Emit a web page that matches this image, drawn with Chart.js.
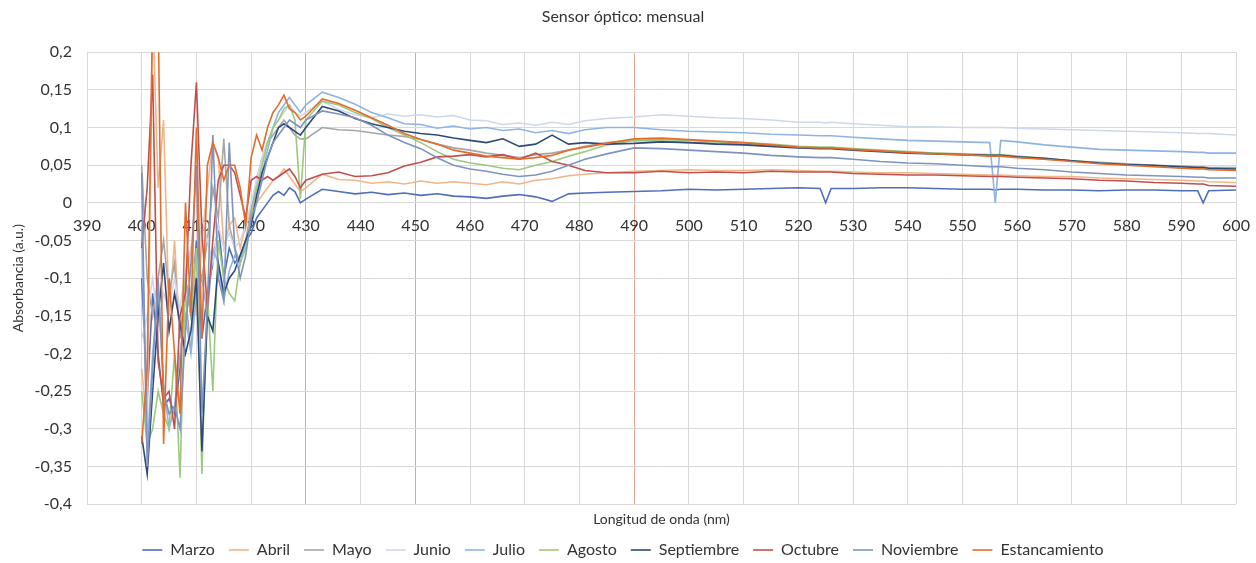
<!DOCTYPE html>
<html lang="es">
<head>
  <meta charset="UTF-8">
  <title>Sensor óptico: mensual</title>
  <script src="https://cdn.jsdelivr.net/npm/chart.js@4"></script>
  <style>
    body { margin: 0; background: #fff; }
    #grafico { display: block; }
  </style>
</head>
<body>
<canvas id="grafico" width="1256" height="563"></canvas>
<script>
  // longitudes de onda (nm) donde se leen los valores
  const longitudes = [
    400, 401, 402, 403, 404, 405, 406, 407, 408, 409, 410, 411, 412, 413, 414, 415,
    416, 417, 418, 419, 420, 421, 422, 423, 424, 425, 426, 427, 428, 429, 430,
    433, 436, 439, 442, 445, 448, 451, 454, 457, 460, 463, 466, 469, 472, 475, 478, 481,
    485, 490, 495, 500, 505, 510, 515, 520, 524, 525, 526, 530, 535, 540, 545, 550,
    555, 556, 557, 560, 565, 570, 575, 580, 585, 590, 593, 594, 595, 600
  ];

  const marzo = [
    -0.10, -0.26, -0.12, -0.20, -0.27, -0.26, -0.28, -0.22, -0.10, -0.15, -0.05, -0.18, -0.12, -0.08, -0.03, -0.10,
    -0.06, -0.08, -0.07, -0.05, -0.04, -0.02, -0.01, 0.00, 0.01, 0.015, 0.01, 0.02, 0.015, 0.0, 0.005,
    0.018, 0.015, 0.012, 0.014, 0.011, 0.013, 0.01, 0.012, 0.009, 0.008, 0.006, 0.009, 0.011, 0.008, 0.002, 0.012, 0.013,
    0.014, 0.015, 0.016, 0.018, 0.017, 0.018, 0.019, 0.02, 0.019, 0.0, 0.019, 0.019, 0.02, 0.02, 0.019, 0.018,
    0.018, 0.017, 0.018, 0.018, 0.017, 0.017, 0.016, 0.017, 0.017, 0.016, 0.016, 0.0, 0.016, 0.017
  ];
  const abril = [
    -0.22, -0.30, 0.26, 0.02, 0.11, -0.15, -0.05, -0.18, -0.10, -0.06, -0.15, -0.05, 0.02, 0.08, 0.06, -0.06,
    -0.03, -0.02, -0.06, -0.03, -0.01, 0.0, 0.01, 0.02, 0.03, 0.035, 0.045, 0.035, 0.025, 0.015, 0.02,
    0.038, 0.031, 0.03, 0.026, 0.028, 0.025, 0.029, 0.026, 0.028, 0.026, 0.024, 0.028, 0.025, 0.03, 0.032, 0.036, 0.038,
    0.04, 0.042, 0.043, 0.044, 0.043, 0.043, 0.044, 0.043, 0.042, 0.042, 0.042, 0.041, 0.04, 0.04, 0.039, 0.038,
    0.037, 0.037, 0.037, 0.036, 0.035, 0.035, 0.033, 0.032, 0.031, 0.03, 0.029, 0.029, 0.028, 0.027
  ];
  const mayo = [
    0.05, -0.10, -0.15, -0.10, -0.05, -0.12, -0.08, -0.18, -0.12, -0.20, -0.08, -0.10, -0.05, 0.02, -0.02, 0.085,
    -0.03, -0.06, -0.08, -0.05, -0.01, 0.03, 0.06, 0.08, 0.09, 0.10, 0.11, 0.10, 0.09, 0.085, 0.085,
    0.1, 0.097, 0.096, 0.093, 0.09, 0.088, 0.084, 0.078, 0.073, 0.07, 0.066, 0.063, 0.06, 0.064, 0.066, 0.07, 0.075,
    0.08, 0.083, 0.082, 0.08, 0.079, 0.078, 0.076, 0.074, 0.073, 0.073, 0.073, 0.071, 0.069, 0.067, 0.066, 0.064,
    0.063, 0.063, 0.063, 0.061, 0.058, 0.056, 0.054, 0.052, 0.05, 0.049, 0.048, 0.048, 0.047, 0.047
  ];
  const junio = [
    -0.18, -0.15, -0.10, -0.16, -0.12, -0.14, -0.10, -0.14, -0.09, -0.06, -0.10, -0.02, -0.05, -0.08, -0.03, -0.06,
    -0.04, -0.06, -0.05, -0.03, 0.0, 0.03, 0.06, 0.08, 0.10, 0.11, 0.12, 0.13, 0.12, 0.115, 0.12,
    0.135, 0.124, 0.117, 0.113, 0.118, 0.115, 0.117, 0.114, 0.116, 0.11, 0.109, 0.104, 0.106, 0.103, 0.107, 0.104, 0.109,
    0.112, 0.114, 0.117, 0.115, 0.113, 0.112, 0.11, 0.107, 0.107, 0.106, 0.107, 0.105, 0.103, 0.101, 0.101, 0.1,
    0.1, 0.1, 0.1, 0.099, 0.098, 0.097, 0.096, 0.095, 0.094, 0.093, 0.092, 0.092, 0.092, 0.09
  ];
  const julio = [
    -0.03, -0.33, -0.20, -0.12, -0.24, -0.30, -0.27, -0.20, -0.15, -0.20, -0.12, -0.10, -0.15, -0.06, -0.08, -0.13,
    -0.09, -0.07, -0.08, -0.05, -0.03, 0.0, 0.04, 0.07, 0.10, 0.12, 0.13, 0.14, 0.13, 0.12, 0.13,
    0.147, 0.14, 0.131, 0.12, 0.113, 0.105, 0.104, 0.099, 0.102, 0.098, 0.1, 0.096, 0.098, 0.093, 0.096, 0.092, 0.097,
    0.1, 0.1, 0.097, 0.095, 0.094, 0.093, 0.091, 0.09, 0.089, 0.089, 0.089, 0.087, 0.085, 0.083, 0.082, 0.081,
    0.08, 0.0, 0.083, 0.081, 0.077, 0.074, 0.071, 0.07, 0.069, 0.068, 0.067, 0.067, 0.066, 0.066
  ];
  const agosto = [
    -0.25, -0.32, -0.30, -0.25, -0.28, -0.30, -0.20, -0.365, -0.10, -0.15, -0.06, -0.36, -0.12, -0.25, -0.05, -0.10,
    -0.12, -0.13, -0.08, -0.06, -0.02, 0.02, 0.05, 0.08, 0.10, 0.11, 0.125, 0.13, 0.11, 0.005, 0.11,
    0.135, 0.13, 0.12, 0.112, 0.1, 0.09, 0.08, 0.068, 0.058, 0.053, 0.05, 0.046, 0.044, 0.05, 0.055, 0.062, 0.068,
    0.077, 0.083, 0.084, 0.083, 0.081, 0.08, 0.078, 0.075, 0.074, 0.074, 0.074, 0.072, 0.07, 0.068, 0.066, 0.065,
    0.064, 0.064, 0.064, 0.062, 0.059, 0.056, 0.053, 0.051, 0.049, 0.047, 0.046, 0.046, 0.045, 0.045
  ];
  const septiembre = [
    -0.31, -0.36, -0.25, -0.15, -0.08, -0.17, -0.12, -0.16, -0.20, -0.17, -0.10, -0.33, -0.15, -0.17, -0.08, -0.12,
    -0.10, -0.09, -0.07, -0.05, -0.03, 0.01, 0.04, 0.06, 0.08, 0.10, 0.105, 0.10, 0.095, 0.09, 0.10,
    0.128, 0.122, 0.112, 0.105, 0.1, 0.095, 0.092, 0.09, 0.086, 0.083, 0.08, 0.085, 0.075, 0.078, 0.09, 0.078, 0.08,
    0.078, 0.079, 0.081, 0.08, 0.078, 0.077, 0.075, 0.073, 0.072, 0.072, 0.072, 0.07, 0.068, 0.066, 0.065, 0.064,
    0.063, 0.063, 0.063, 0.061, 0.059, 0.056, 0.053, 0.051, 0.05, 0.048, 0.047, 0.047, 0.046, 0.045
  ];
  const octubre = [
    -0.06, 0.02, 0.17, -0.21, -0.26, -0.25, -0.30, -0.15, -0.12, 0.05, 0.16, -0.04, -0.14, -0.05, 0.03, 0.05,
    0.05, 0.04, 0.01, -0.02, 0.03, 0.035, 0.03, 0.035, 0.03, 0.035, 0.04, 0.045, 0.035, 0.02, 0.03,
    0.038, 0.041, 0.035, 0.036, 0.04, 0.049, 0.054, 0.061, 0.062, 0.064, 0.061, 0.064, 0.058, 0.066, 0.055, 0.05, 0.043,
    0.04, 0.04, 0.042, 0.04, 0.041, 0.04, 0.042, 0.041, 0.041, 0.041, 0.041, 0.039, 0.038, 0.037, 0.037, 0.036,
    0.035, 0.035, 0.035, 0.034, 0.033, 0.032, 0.03, 0.029, 0.027, 0.026, 0.025, 0.025, 0.023, 0.022
  ];
  const noviembre = [
    0.04, -0.35, -0.22, -0.10, -0.25, -0.28, -0.27, -0.30, -0.17, -0.08, 0.05, -0.28, -0.14, 0.09, -0.10, -0.13,
    0.08, -0.06, -0.10, -0.07, -0.02, 0.0, 0.03, 0.06, 0.08, 0.09, 0.10, 0.11, 0.105, 0.10, 0.11,
    0.122, 0.118, 0.113, 0.103, 0.09, 0.08, 0.072, 0.06, 0.05, 0.045, 0.042, 0.038, 0.035, 0.037, 0.042, 0.05, 0.058,
    0.065, 0.073, 0.072, 0.07, 0.068, 0.066, 0.063, 0.061, 0.06, 0.06, 0.06, 0.058, 0.055, 0.053, 0.052, 0.05,
    0.048, 0.048, 0.048, 0.046, 0.044, 0.041, 0.039, 0.037, 0.036, 0.035, 0.034, 0.034, 0.033, 0.033
  ];
  const estancamiento = [
    -0.32, -0.22, 0.26, 0.26, -0.32, -0.10, -0.20, -0.28, 0.00, -0.15, 0.10, -0.18, 0.05, 0.08, 0.06, 0.03,
    0.05, 0.05, 0.02, -0.03, 0.06, 0.09, 0.07, 0.10, 0.12, 0.13, 0.143, 0.125, 0.12, 0.11, 0.115,
    0.138, 0.132, 0.123, 0.113, 0.103, 0.092, 0.084, 0.078, 0.07, 0.066, 0.062, 0.06, 0.058, 0.06, 0.063, 0.07, 0.074,
    0.079, 0.085, 0.086, 0.084, 0.082, 0.08, 0.077, 0.074, 0.073, 0.073, 0.073, 0.071, 0.069, 0.067, 0.065, 0.064,
    0.062, 0.062, 0.062, 0.06, 0.058, 0.055, 0.052, 0.05, 0.048, 0.046, 0.045, 0.045, 0.044, 0.043
  ];

  const meses = ['Marzo', 'Abril', 'Mayo', 'Junio', 'Julio', 'Agosto', 'Septiembre', 'Octubre', 'Noviembre', 'Estancamiento'];
  const series = [marzo, abril, mayo, junio, julio, agosto, septiembre, octubre, noviembre, estancamiento];
  const colores = ['#4f6fb8', '#f2b58a', '#a6a6a6', '#cfd8e8', '#8eb4e3', '#9cc97e', '#2e4a7a', '#c0504d', '#7f93bf', '#e46c2c'];
  const lineasRojas = [430, 450, 490]; // rejillas marcadas en rojo

  Chart.defaults.font.family = 'Lato, "Liberation Sans", sans-serif';
  Chart.defaults.color = '#333';

  const datasets = meses.map((nombre, i) => ({
    label: nombre,
    data: longitudes.map((x, j) => ({ x: x, y: series[i][j] })),
    borderColor: colores[i],
    backgroundColor: colores[i],
    borderWidth: 1.6,
    pointRadius: 0,
    tension: 0,
    xAxisID: 'x',
    order: meses.length - i // la ultima serie queda encima, como en Excel
  }));

  const coma = v => {
    const r = Math.round(v * 100) / 100;
    return r === 0 ? '0' : String(r).replace('.', ',');
  };

  new Chart(document.getElementById('grafico'), {
    type: 'line',
    data: { datasets: datasets },
    options: {
      responsive: false,
      animation: false,
      layout: { padding: { left: 10, right: 20, top: 0, bottom: -5 } },
      plugins: {
        title: {
          display: true,
          text: 'Sensor óptico: mensual',
          font: { size: 16, weight: 'normal' },
          padding: { top: 7, bottom: 26 }
        },
        legend: {
          position: 'bottom',
          labels: {
            usePointStyle: true,
            pointStyle: 'line',
            pointStyleWidth: 20,
            padding: 14,
            font: { size: 16 },
            sort: (a, b) => a.datasetIndex - b.datasetIndex
          }
        },
        tooltip: { enabled: false }
      },
      scales: {
        x: {
          type: 'linear',
          min: 390,
          max: 600,
          position: { y: 0 },
          // el eje va en y=0; sin esto reserva a la derecha el ancho de "600" + padding
          afterFit: s => { s.paddingLeft = 0; s.paddingRight = 0; },
          ticks: { stepSize: 10, padding: 13, font: { size: 16 }, autoSkip: false, maxRotation: 0 },
          grid: {
            color: c => (c.tick && lineasRojas.includes(c.tick.value)) ? '#e6a493' : '#d9d9d9',
            drawTicks: false
          },
          border: { color: '#d9d9d9' }
        },
        xTitulo: {
          type: 'linear',
          position: 'bottom',
          min: 390,
          max: 600,
          ticks: { display: false },
          grid: { display: false, drawTicks: false },
          border: { display: false },
          title: { display: true, text: 'Longitud de onda (nm)', font: { size: 14 }, padding: { top: 7, bottom: 0 } }
        },
        y: {
          min: -0.4,
          max: 0.2,
          afterFit: s => { s.width = 77; },
          ticks: { stepSize: 0.05, padding: 15, font: { size: 16 }, callback: v => coma(v) },
          grid: { color: '#d9d9d9', drawTicks: false },
          border: { display: false },
          title: { display: true, text: 'Absorbancia (a.u.)', font: { size: 14 }, padding: { top: 0, bottom: 4 } }
        }
      }
    }
  });
</script>
</body>
</html>
